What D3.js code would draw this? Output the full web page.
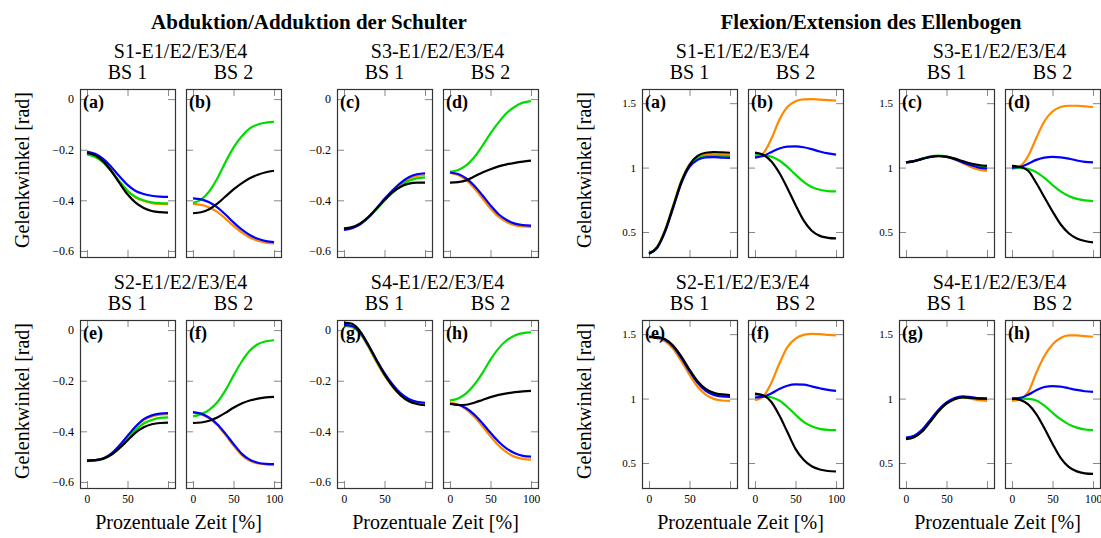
<!DOCTYPE html>
<html lang="de">
<head>
<meta charset="UTF-8">
<title>Gelenkwinkel</title>
<style>
  body { margin: 0; background: #fff; }
</style>
</head>
<body>
<script src="https://d3js.org/d3.v7.min.js"></script>
<script>
const zeit = [0, 10, 20, 30, 40, 50, 60, 70, 80, 90, 100];
// Reihenfolge in jedem Panel: orange, grün, blau, schwarz
const farben = ["#ff8a00", "#00dc00", "#0000ff", "#000000"];

// Abduktion/Adduktion der Schulter
const schulterA = [
  [-0.216, -0.226, -0.248, -0.284, -0.325, -0.363, -0.389, -0.403, -0.411, -0.414, -0.415],
  [-0.219, -0.229, -0.250, -0.285, -0.325, -0.362, -0.387, -0.400, -0.408, -0.411, -0.412],
  [-0.207, -0.216, -0.236, -0.268, -0.305, -0.339, -0.363, -0.375, -0.382, -0.385, -0.386],
  [-0.213, -0.222, -0.246, -0.284, -0.331, -0.376, -0.409, -0.430, -0.442, -0.447, -0.449]
];
const schulterB = [
  [-0.414, -0.418, -0.428, -0.446, -0.472, -0.501, -0.527, -0.547, -0.560, -0.567, -0.570],
  [-0.410, -0.397, -0.365, -0.314, -0.250, -0.192, -0.148, -0.116, -0.100, -0.093, -0.090],
  [-0.392, -0.396, -0.408, -0.428, -0.456, -0.487, -0.515, -0.537, -0.552, -0.561, -0.565],
  [-0.451, -0.447, -0.435, -0.413, -0.385, -0.357, -0.333, -0.313, -0.299, -0.289, -0.283]
];
const schulterC = [
  [-0.515, -0.509, -0.494, -0.468, -0.433, -0.397, -0.365, -0.337, -0.315, -0.304, -0.300],
  [-0.514, -0.508, -0.494, -0.469, -0.436, -0.401, -0.370, -0.344, -0.323, -0.313, -0.309],
  [-0.517, -0.510, -0.495, -0.468, -0.432, -0.394, -0.360, -0.331, -0.309, -0.297, -0.293],
  [-0.511, -0.506, -0.491, -0.466, -0.433, -0.399, -0.368, -0.346, -0.334, -0.330, -0.330]
];
const schulterD = [
  [-0.292, -0.300, -0.320, -0.352, -0.392, -0.432, -0.465, -0.486, -0.498, -0.503, -0.505],
  [-0.287, -0.280, -0.262, -0.230, -0.185, -0.135, -0.092, -0.055, -0.030, -0.014, -0.008],
  [-0.290, -0.296, -0.313, -0.342, -0.380, -0.420, -0.455, -0.478, -0.492, -0.498, -0.500],
  [-0.330, -0.328, -0.321, -0.306, -0.290, -0.277, -0.266, -0.258, -0.252, -0.247, -0.243]
];
const schulterE = [
  [-0.516, -0.514, -0.507, -0.488, -0.457, -0.420, -0.384, -0.356, -0.341, -0.334, -0.332],
  [-0.518, -0.516, -0.509, -0.492, -0.463, -0.429, -0.395, -0.369, -0.355, -0.347, -0.345],
  [-0.516, -0.514, -0.507, -0.488, -0.456, -0.418, -0.381, -0.352, -0.337, -0.330, -0.328],
  [-0.516, -0.514, -0.508, -0.493, -0.467, -0.436, -0.405, -0.384, -0.372, -0.367, -0.366]
];
const schulterF = [
  [-0.326, -0.332, -0.349, -0.376, -0.414, -0.456, -0.493, -0.516, -0.527, -0.531, -0.532],
  [-0.341, -0.332, -0.315, -0.285, -0.238, -0.180, -0.125, -0.082, -0.056, -0.044, -0.040],
  [-0.324, -0.330, -0.346, -0.372, -0.409, -0.450, -0.488, -0.512, -0.524, -0.529, -0.530],
  [-0.367, -0.365, -0.358, -0.345, -0.327, -0.307, -0.290, -0.278, -0.271, -0.266, -0.264]
];
const schulterG = [
  [0.017, 0.012, -0.014, -0.066, -0.126, -0.180, -0.224, -0.257, -0.277, -0.287, -0.290],
  [0.019, 0.014, -0.012, -0.063, -0.121, -0.175, -0.219, -0.253, -0.274, -0.285, -0.289],
  [0.021, 0.016, -0.010, -0.060, -0.117, -0.170, -0.215, -0.250, -0.272, -0.283, -0.287],
  [0.030, 0.025, -0.005, -0.058, -0.118, -0.175, -0.222, -0.258, -0.281, -0.292, -0.297]
];
const schulterH = [
  [-0.286, -0.294, -0.313, -0.342, -0.380, -0.420, -0.456, -0.483, -0.501, -0.509, -0.512],
  [-0.278, -0.270, -0.250, -0.216, -0.170, -0.117, -0.072, -0.040, -0.021, -0.012, -0.009],
  [-0.291, -0.295, -0.309, -0.334, -0.368, -0.406, -0.441, -0.468, -0.487, -0.497, -0.500],
  [-0.291, -0.296, -0.295, -0.287, -0.276, -0.265, -0.256, -0.250, -0.245, -0.242, -0.240]
];

// Flexion/Extension des Ellenbogen
const ellenbogenA = [
  [0.335, 0.385, 0.520, 0.710, 0.900, 1.025, 1.085, 1.100, 1.100, 1.098, 1.097],
  [0.335, 0.380, 0.510, 0.700, 0.890, 1.015, 1.075, 1.090, 1.092, 1.090, 1.088],
  [0.330, 0.375, 0.505, 0.690, 0.880, 1.005, 1.060, 1.080, 1.082, 1.078, 1.075],
  [0.335, 0.380, 0.510, 0.700, 0.890, 1.020, 1.090, 1.115, 1.120, 1.118, 1.115]
];
const ellenbogenB = [
  [1.085, 1.110, 1.220, 1.370, 1.470, 1.515, 1.530, 1.532, 1.528, 1.524, 1.520],
  [1.096, 1.095, 1.085, 1.055, 1.005, 0.945, 0.890, 0.850, 0.828, 0.818, 0.815],
  [1.078, 1.090, 1.120, 1.148, 1.162, 1.165, 1.158, 1.143, 1.125, 1.110, 1.100],
  [1.116, 1.100, 1.050, 0.960, 0.840, 0.710, 0.590, 0.510, 0.470, 0.455, 0.450]
];
const ellenbogenC = [
  [1.040, 1.050, 1.068, 1.084, 1.090, 1.083, 1.063, 1.035, 1.005, 0.984, 0.975],
  [1.040, 1.050, 1.070, 1.087, 1.094, 1.088, 1.070, 1.045, 1.022, 1.007, 1.000],
  [1.040, 1.050, 1.068, 1.082, 1.088, 1.082, 1.065, 1.040, 1.018, 1.000, 0.992],
  [1.040, 1.050, 1.068, 1.083, 1.090, 1.085, 1.070, 1.050, 1.032, 1.020, 1.013]
];
const ellenbogenD = [
  [0.990, 1.010, 1.090, 1.230, 1.360, 1.435, 1.470, 1.480, 1.480, 1.475, 1.470],
  [1.000, 0.998, 0.990, 0.965, 0.920, 0.865, 0.815, 0.780, 0.757, 0.745, 0.740],
  [1.000, 1.005, 1.030, 1.060, 1.078, 1.083, 1.080, 1.070, 1.055, 1.045, 1.040],
  [1.013, 1.005, 0.975, 0.880, 0.770, 0.660, 0.560, 0.490, 0.450, 0.430, 0.420]
];
const ellenbogenE = [
  [1.475, 1.468, 1.445, 1.385, 1.290, 1.185, 1.092, 1.030, 0.998, 0.985, 0.982],
  [1.480, 1.477, 1.458, 1.405, 1.320, 1.218, 1.127, 1.066, 1.036, 1.023, 1.020],
  [1.480, 1.476, 1.456, 1.402, 1.315, 1.213, 1.122, 1.060, 1.029, 1.016, 1.013],
  [1.480, 1.478, 1.460, 1.410, 1.325, 1.225, 1.135, 1.075, 1.045, 1.032, 1.028]
];
const ellenbogenF = [
  [0.987, 1.015, 1.120, 1.270, 1.400, 1.465, 1.495, 1.503, 1.500, 1.495, 1.490],
  [1.028, 1.022, 1.010, 0.985, 0.935, 0.875, 0.820, 0.785, 0.765, 0.757, 0.755],
  [1.008, 1.015, 1.040, 1.075, 1.100, 1.110, 1.108, 1.095, 1.080, 1.067, 1.060],
  [1.039, 1.025, 0.975, 0.870, 0.740, 0.610, 0.525, 0.475, 0.450, 0.438, 0.434]
];
const ellenbogenG = [
  [0.690, 0.705, 0.752, 0.828, 0.905, 0.963, 0.998, 1.010, 1.000, 0.987, 0.982],
  [0.690, 0.705, 0.750, 0.826, 0.905, 0.965, 1.000, 1.012, 1.006, 1.000, 0.998],
  [0.698, 0.712, 0.760, 0.835, 0.912, 0.970, 1.005, 1.018, 1.012, 1.003, 1.000],
  [0.685, 0.700, 0.745, 0.820, 0.900, 0.960, 0.995, 1.010, 1.005, 1.000, 1.000]
];
const ellenbogenH = [
  [0.982, 0.995, 1.050, 1.200, 1.330, 1.420, 1.470, 1.490, 1.490, 1.485, 1.480],
  [1.000, 1.000, 0.998, 0.985, 0.945, 0.890, 0.840, 0.800, 0.775, 0.760, 0.755],
  [1.000, 1.005, 1.030, 1.065, 1.090, 1.097, 1.093, 1.080, 1.067, 1.057, 1.052],
  [1.000, 0.990, 0.955, 0.880, 0.770, 0.650, 0.540, 0.470, 0.435, 0.420, 0.415]
];

const xTicks = [0, 50, 100];
const schulterTicks = [0, -0.2, -0.4, -0.6];
const ellenbogenTicks = [0.5, 1, 1.5];
const gruppenNamen = ["S1-E1/E2/E3/E4", "S3-E1/E2/E3/E4", "S2-E1/E2/E3/E4", "S4-E1/E2/E3/E4"];
const buchstaben = ["a", "b", "c", "d", "e", "f", "g", "h"];
const seitenTitel = ["Abduktion/Adduktion der Schulter", "Flexion/Extension des Ellenbogen"];

const width = 1101, height = 538;
const pw = 95, ph = 168;
const seitenX = [80, 642];
const gruppeDX = 257, bsDX = 106;
const reiheY = [89, 320];
const schrift = "'Liberation Serif', 'Times New Roman', serif";

const seiten = [
  { daten: [schulterA, schulterB, schulterC, schulterD, schulterE, schulterF, schulterG, schulterH],
    domain: [-0.624, 0.04], ticks: schulterTicks, fs: 12 },
  { daten: [ellenbogenA, ellenbogenB, ellenbogenC, ellenbogenD, ellenbogenE, ellenbogenF, ellenbogenG, ellenbogenH],
    domain: [0.306, 1.61], ticks: ellenbogenTicks, fs: 11 }
];

const svg = d3.select("body").append("svg")
  .attr("width", width).attr("height", height)
  .attr("font-family", schrift);

const x = d3.scaleLinear().domain([-8.6, 108.6]).range([0, pw]);
const fmt = d3.format("~g");

function label(xp, yp, txt, size) {
  return svg.append("text")
    .attr("x", xp).attr("y", yp)
    .attr("text-anchor", "middle")
    .attr("font-family", schrift)
    .attr("font-size", size)
    .attr("fill", "#000")
    .text(txt);
}

seiten.forEach(function(seite, s) {
  const y = d3.scaleLinear().domain(seite.domain).range([ph, 0]);
  const line = d3.line().x((d, i) => x(zeit[i])).y(d => y(d)).curve(d3.curveMonotoneX);
  const sx = seitenX[s];

  label(sx + (gruppeDX + bsDX + pw) / 2, 29, seitenTitel[s], 21).attr("font-weight", "bold");

  for (let g = 0; g < 4; g++) {
    const row = Math.floor(g / 2), col = g % 2;
    const gx = sx + col * gruppeDX, gy = reiheY[row];

    label(gx + (bsDX + pw) / 2, gy - 31, gruppenNamen[g], 20);

    if (col === 0) {
      label(0, 0, "Gelenkwinkel [rad]", 20)
        .attr("transform", "translate(" + (sx - 51) + "," + (gy + ph / 2 - 3) + ") rotate(-90)");
    }
    if (row === 1) {
      label(gx + (bsDX + pw) / 2 - 2, 529, "Prozentuale Zeit [%]", 20);
    }

    for (let b = 0; b < 2; b++) {
      const k = g * 2 + b;
      const px = gx + b * bsDX;
      const p = svg.append("g").attr("transform", "translate(" + px + "," + gy + ")");

      label(px + pw / 2, gy - 10, "BS " + (b + 1), 20);

      const clipId = "clip" + s + "_" + k;
      p.append("clipPath").attr("id", clipId)
        .append("rect").attr("width", pw).attr("height", ph);

      // Achsen mit Ticks nach innen
      const yl = p.append("g").call(d3.axisLeft(y).tickValues(seite.ticks).tickSize(-7).tickPadding(6)
        .tickFormat(b === 0 ? fmt : () => ""));
      const yr = p.append("g").attr("transform", "translate(" + pw + ",0)")
        .call(d3.axisRight(y).tickValues(seite.ticks).tickSize(-7).tickFormat(() => ""));
      const xt = p.append("g").call(d3.axisTop(x).tickValues(xTicks).tickSize(-7).tickFormat(() => ""));
      const xb = p.append("g").attr("transform", "translate(0," + ph + ")")
        .call(d3.axisBottom(x).tickValues(xTicks).tickSize(-7).tickPadding(7)
          .tickFormat(d => (row === 1 && !(b === 0 && d === 100)) ? fmt(d) : ""));

      [yl, yr, xt, xb].forEach(function(a) {
        a.attr("font-family", schrift);
        a.select(".domain").remove();
        a.selectAll(".tick line").attr("stroke", "#888").attr("stroke-width", 1);
        a.selectAll(".tick text").attr("font-family", schrift).attr("fill", "#000");
      });
      yl.attr("font-size", seite.fs).selectAll(".tick text").attr("font-size", seite.fs);
      xb.attr("font-size", 11.5).selectAll(".tick text").attr("font-size", 11.5);

      p.append("g").attr("clip-path", "url(#" + clipId + ")")
        .selectAll("path")
        .data(seite.daten[k])
        .enter()
        .append("path")
        .attr("d", line)
        .attr("fill", "none")
        .attr("stroke", (d, i) => farben[i])
        .attr("stroke-width", 2.2);

      p.append("rect")
        .attr("x", 0.5).attr("y", 0.5).attr("width", pw).attr("height", ph)
        .attr("fill", "none").attr("stroke", "#333").attr("stroke-width", 1.2);

      p.append("text")
        .attr("x", 3).attr("y", 19)
        .attr("font-family", schrift)
        .attr("font-size", 18).attr("font-weight", "bold")
        .text("(" + buchstaben[k] + ")");
    }
  }
});
</script>
</body>
</html>
